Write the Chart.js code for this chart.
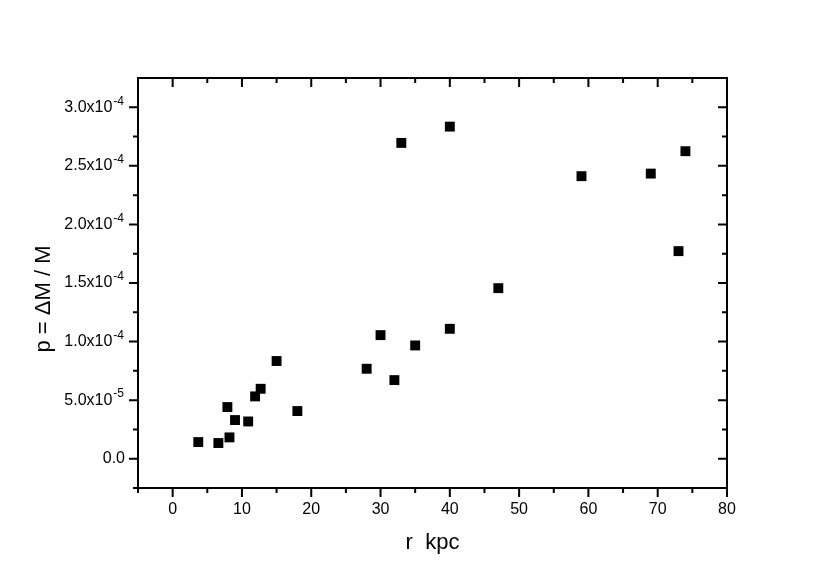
<!DOCTYPE html>
<html>
<head>
<meta charset="utf-8">
<script src="https://cdn.jsdelivr.net/npm/chart.js@4.4.0/dist/chart.umd.min.js"></script>
<style>
  html, body { margin: 0; padding: 0; background: #fff; }
</style>
</head>
<body>
<canvas id="chart" width="840" height="586"></canvas>
<script>
// data
const rKpc = [3.7, 6.6, 8.2, 7.9, 9.0, 10.9, 11.9, 12.7, 15.0, 18.0,
              28.0, 30.0, 32.0, 33.0, 35.0, 40.0, 40.0, 47.0, 59.0, 69.0, 73.0, 74.0];
const pVals = [1.42e-5, 1.34e-5, 1.82e-5, 4.41e-5, 3.30e-5, 3.18e-5, 5.32e-5, 5.97e-5, 8.34e-5, 4.07e-5,
               7.68e-5, 1.055e-4, 6.71e-5, 2.696e-4, 9.67e-5, 1.109e-4, 2.835e-4, 1.456e-4, 2.412e-4, 2.434e-4, 1.772e-4, 2.625e-4];

// axis ticks
const xMajor = [0, 10, 20, 30, 40, 50, 60, 70, 80];
const xMinor = [-5, 5, 15, 25, 35, 45, 55, 65, 75];
const yMajor = [0, 5e-5, 1e-4, 1.5e-4, 2e-4, 2.5e-4, 3e-4];
const yMinor = [-2.5e-5, 2.5e-5, 7.5e-5, 1.25e-4, 1.75e-4, 2.25e-4, 2.75e-4];
const yTickText = ['0.0', '5.0x10', '1.0x10', '1.5x10', '2.0x10', '2.5x10', '3.0x10'];
const yTickExp = ['', '-5', '-4', '-4', '-4', '-4', '-4'];

const xTitle = 'r  kpc';
const yTitle = 'p = \u0394M / M';

const FONT = '"Liberation Sans", Arial, sans-serif';

// frame, minor/major ticks, y labels with superscripts, axis titles
const framePlugin = {
  id: 'frame',
  afterDraw(chart) {
    const ctx = chart.ctx;
    const a = chart.chartArea;
    const xs = chart.scales.x, ys = chart.scales.y;
    ctx.save();
    ctx.strokeStyle = '#000';
    ctx.lineWidth = 2;
    ctx.strokeRect(a.left, a.top, a.right - a.left, a.bottom - a.top);

    function xTick(v, len) {
      const px = xs.getPixelForValue(v);
      ctx.beginPath();
      ctx.moveTo(px, a.bottom); ctx.lineTo(px, a.bottom + len);   // outward
      ctx.moveTo(px, a.top); ctx.lineTo(px, a.top + len);         // inward
      ctx.stroke();
    }
    function yTick(v, len) {
      const py = ys.getPixelForValue(v);
      ctx.beginPath();
      ctx.moveTo(a.left, py); ctx.lineTo(a.left - len, py);       // outward
      ctx.moveTo(a.right, py); ctx.lineTo(a.right - len, py);     // inward
      ctx.stroke();
    }
    xMajor.forEach(v => xTick(v, 9));
    xMinor.forEach(v => xTick(v, 5));
    yMajor.forEach(v => yTick(v, 9));
    yMinor.forEach(v => yTick(v, 5));

    // y tick labels
    ctx.fillStyle = '#000';
    ctx.textBaseline = 'middle';
    ctx.textAlign = 'right';
    const xEnd = a.left - 14;
    yMajor.forEach((v, i) => {
      const py = ys.getPixelForValue(v);
      if (yTickExp[i]) {
        ctx.font = '12px ' + FONT;
        const w = ctx.measureText(yTickExp[i]).width;
        ctx.fillText(yTickExp[i], xEnd, py - 6);
        ctx.font = '16px ' + FONT;
        ctx.fillText(yTickText[i], xEnd - w - 1, py);
      } else {
        ctx.font = '16px ' + FONT;
        ctx.fillText(yTickText[i], a.left - 13, py);
      }
    });

    // axis titles
    ctx.font = '22px ' + FONT;
    ctx.textAlign = 'center';
    ctx.fillText(xTitle, (a.left + a.right) / 2, 543);
    ctx.translate(44, 299);
    ctx.rotate(-Math.PI / 2);
    ctx.font = '22px ' + FONT;
    ctx.fillText(yTitle, 0, 0);
    ctx.restore();
  }
};

let chart = new Chart('chart', {
  type: 'scatter',
  data: {
    datasets: [{
      data: rKpc.map((r, i) => ({ x: r, y: pVals[i] })),
      pointStyle: 'rect',
      pointRadius: 7,
      pointHoverRadius: 7,
      backgroundColor: '#000',
      borderColor: '#000',
      borderWidth: 0
    }]
  },
  options: {
    responsive: false,
    animation: false,
    devicePixelRatio: 1,
    layout: { padding: { top: 78, right: 113, left: 0, bottom: 0 } },
    plugins: { legend: { display: false }, tooltip: { enabled: false } },
    scales: {
      x: {
        type: 'linear',
        min: -5,
        max: 80,
        afterBuildTicks: s => { s.ticks = xMajor.map(v => ({ value: v })); },
        afterFit: s => { s.height = 98; },
        grid: { display: false, drawTicks: false },
        border: { display: false },
        ticks: { color: '#000', font: { family: FONT, size: 16 }, padding: 12, maxRotation: 0, autoSkip: false }
      },
      y: {
        type: 'linear',
        min: -2.5e-5,
        max: 3.25e-4,
        afterFit: s => { s.width = 138; },
        grid: { display: false, drawTicks: false },
        border: { display: false },
        ticks: { display: false }
      }
    }
  },
  plugins: [framePlugin]
});
</script>
</body>
</html>
